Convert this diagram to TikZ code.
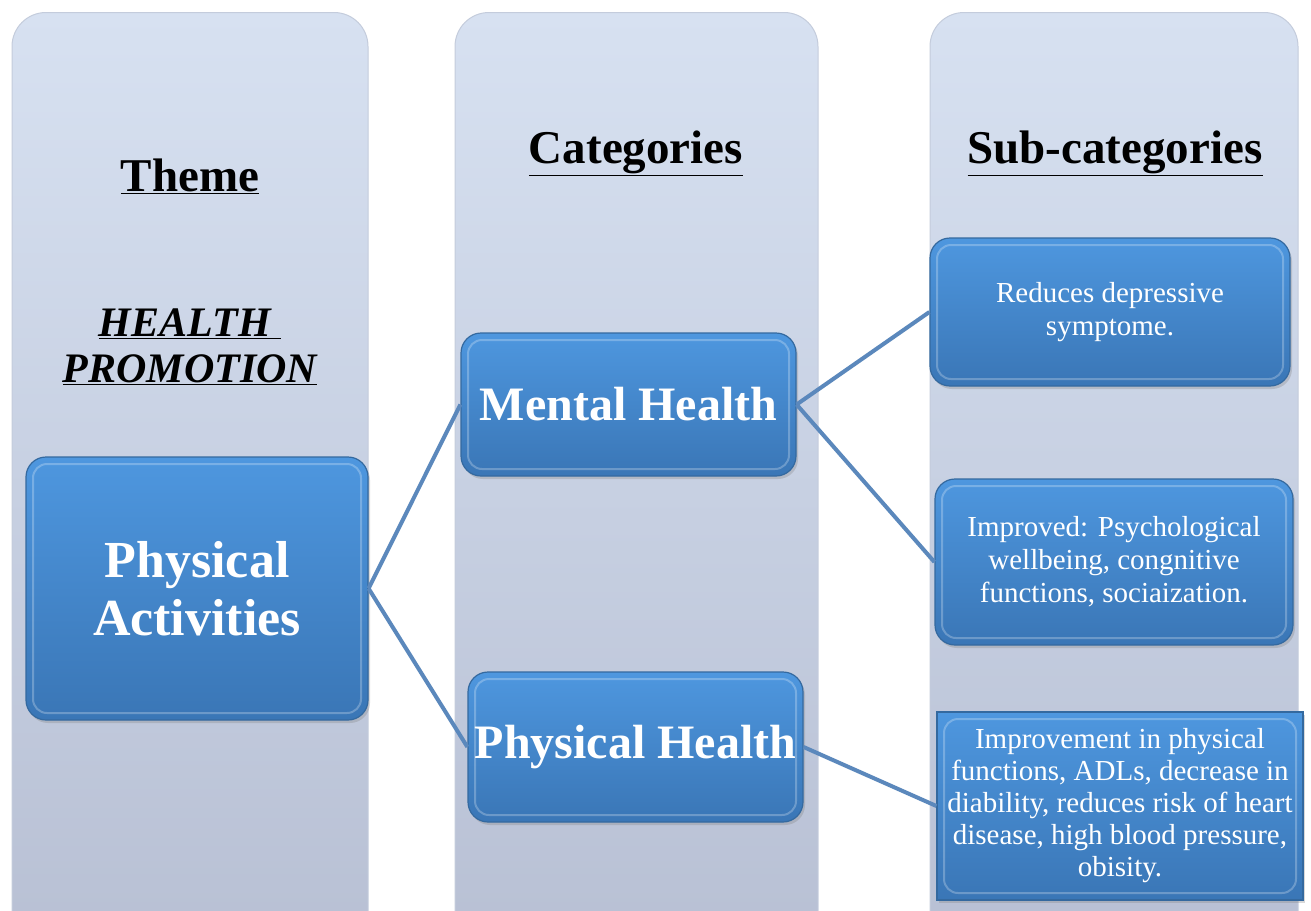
\documentclass[tikz,border=0pt]{standalone}
\usepackage{fontspec}
\setmainfont{Liberation Serif}
\usetikzlibrary{positioning, shadows}
\definecolor{colTop}{HTML}{D7E1F1}
\definecolor{colBot}{HTML}{B7BFD3}
\definecolor{colEdge}{HTML}{C4CCDC}
\definecolor{boxTop}{HTML}{4E97DF}
\definecolor{boxBot}{HTML}{3A76B6}
\definecolor{boxEdge}{HTML}{34699F}
\definecolor{linkCol}{HTML}{5B88BC}
\tikzset{
	x=1pt, y=-1pt, % un pixel por punto, y hacia abajo
	column/.style={rounded corners=34pt, top color=colTop, bottom color=colBot,
		draw=colEdge, line width=1pt, anchor=north}, % columnas de fondo
	heading/.style={font=\fontsize{47}{52}\selectfont\bfseries}, % titulos
	box/.style={rounded corners=20pt, top color=boxTop, bottom color=boxBot,
		draw=boxEdge, line width=1.2pt, text=white, align=center,
		drop shadow={shadow xshift=2pt, shadow yshift=-3pt, opacity=0.3},
		path picture={\draw[white, opacity=0.25, line width=2pt, rounded corners=14pt]
			([shift={(7pt,-7pt)}]path picture bounding box.north west) rectangle
			([shift={(-7pt,7pt)}]path picture bounding box.south east);}}, % cajas azules
	bigtext/.style={font=\fontsize{48}{58}\selectfont\bfseries}, % texto grande
	smalltext/.style={font=\fontsize{29}{33}\selectfont}, % texto chico
	link/.style={draw=linkCol, line width=4pt} % conectores
}
\begin{document}
\begin{tikzpicture}
	\clip (0,0) rectangle (1311,910);
	\fill[white] (0,0) rectangle (1311,910);
	% columnas
	\node[column, minimum width=356, minimum height=960] (c1) at (190,12) {};
	\node[column, minimum width=363, minimum height=960] (c2) at (636.5,12) {};
	\node[column, minimum width=368, minimum height=960] (c3) at (1114,12) {};
	% titulos
	\node[heading] (theme) at (190,176) {\underline{Theme}};
	\node[heading] (cats) at (636,153) {\underline{Categories}};
	\node[heading] (subcats) at (1115,153) {\underline{Sub-categories}};
	\node[font=\fontsize{42}{46}\selectfont\bfseries\itshape, align=center] (hp) at (190,347)
		{\underline{HEALTH\ }\\\underline{PROMOTION}};
	% cajas
	\node[box, font=\fontsize{52}{58}\selectfont\bfseries, minimum width=342, minimum height=263] (pa) at (197,588.5)
		{Physical\\Activities};
	\node[box, bigtext, minimum width=335, minimum height=143] (mh) at (628.5,404.5)
		{Mental Health};
	\node[box, bigtext, minimum width=335, minimum height=150, inner sep=0pt] (ph) at (635.5,747)
		{Physical Health};
	\node[box, smalltext, minimum width=360, minimum height=148] (rd) at (1110,312)
		{Reduces depressive\\symptome.};
	\node[box, smalltext, minimum width=358, minimum height=166] (ip) at (1114,562)
		{Improved: Psychological\\wellbeing, congnitive\\functions, sociaization.};
	\node[box, smalltext, rounded corners=0pt, minimum width=366, minimum height=188, inner sep=0pt,
		font=\fontsize{29}{32}\selectfont] (ipf) at (1120,806)
		{Improvement in physical\\functions, ADLs, decrease in\\diability, reduces risk of heart\\disease, high blood pressure,\\obisity.};
	% conectores
	\draw[link] (pa.east) -- (mh.west);
	\draw[link] (pa.east) -- (ph.west);
	\draw[link] (mh.east) -- (rd.west);
	\draw[link] (mh.east) -- (ip.west);
	\draw[link] (ph.east) -- (ipf.west);
\end{tikzpicture}
\end{document}
